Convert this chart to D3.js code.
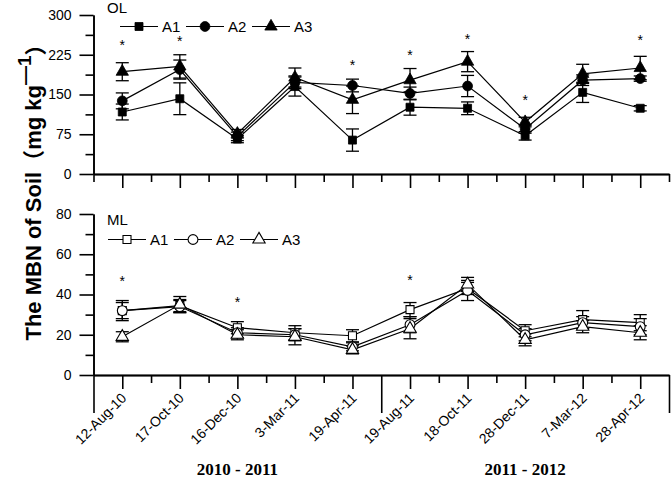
<!DOCTYPE html>
<html>
<head>
<meta charset="utf-8">
<script src="https://cdn.jsdelivr.net/npm/d3@7"></script>
<style>
  html, body { margin: 0; padding: 0; background: #fff; }
  svg { display: block; }
  text { font-family: Arial, "Liberation Sans", sans-serif; fill: #000; }
</style>
</head>
<body>
<svg id="chart" width="672" height="488"></svg>
<script>
// ---------------- DATA ----------------
const categories = ["12-Aug-10", "17-Oct-10", "16-Dec-10", "3-Mar-11", "19-Apr-11",
                    "19-Aug-11", "18-Oct-11", "28-Dec-11", "7-Mar-12", "28-Apr-12"];
const seriesNames = ["A1", "A2", "A3"];
const periodLabels = ["2010 - 2011", "2011 - 2012"];

// OL (top panel) means and errors
const olA1 = [117, 142, 66, 165, 64, 126, 124, 72, 154, 124];
const olA1Err = [15, 30, 7, 18, 21, 15, 12, 8, 19, 5];
const olA2 = [138, 197, 71, 173, 167, 152, 166, 85, 177, 180];
const olA2Err = [15, 18, 8, 12, 12, 12, 20, 8, 10, 5];
const olA3 = [193, 203, 76, 182, 140, 177, 212, 98, 189, 200];
const olA3Err = [17, 22, 8, 18, 26, 22, 19, 9, 18, 22];
const olStars = [[0, 247], [1, 255], [4, 209], [5, 228], [6, 258], [7, 143], [9, 257]];
const olTicks = [0, 75, 150, 225, 300];

// ML (bottom panel) means and errors
const mlA1 = [32, 34.5, 23.5, 21, 19.5, 32.5, 43, 22, 27.5, 26];
const mlA1Err = [5, 3, 3, 3.5, 3, 3.5, 3, 3, 4.5, 4];
const mlA2 = [32, 34, 21, 20, 14, 25, 42, 20, 26, 24];
const mlA2Err = [4, 3, 2.5, 3, 2, 4, 5, 3, 3, 4];
const mlA3 = [19, 35, 20, 19, 12.5, 23, 45, 17.5, 24, 21];
const mlA3Err = [2.5, 4, 2.5, 4, 2, 5, 3.5, 3, 3, 3.5];
const mlStars = [[0, 47.7], [2, 37.3], [5, 48.2]];
const mlTicks = [0, 20, 40, 60, 80];

// ---------------- CHART ----------------
const svg = d3.select("#chart");
const x = d3.scaleLinear().domain([-0.5, categories.length - 0.5]).range([93.5, 669]);
const symbols = [d3.symbolSquare, d3.symbolCircle, d3.symbolTriangle];
const symSizes = [64, 76, 66];

function panel(cfg) {
  const y = d3.scaleLinear().domain(cfg.domain).range(cfg.range);
  const g = svg.append("g");
  const y0 = cfg.range[0];

  // x axis
  const halfs = d3.range(-0.5, categories.length, 1);
  g.append("g").attr("transform", `translate(0,${y0})`)
    .call(d3.axisBottom(x).tickValues(d3.range(categories.length)).tickSize(14).tickSizeOuter(0).tickFormat(""));
  g.append("g").attr("transform", `translate(0,${y0})`)
    .call(d3.axisBottom(x).tickValues(halfs.filter(v => !cfg.longTicks.includes(v))).tickSize(8).tickSizeOuter(0).tickFormat(""));
  g.append("g").attr("transform", `translate(0,${y0})`)
    .call(d3.axisBottom(x).tickValues(cfg.longTicks).tickSize(cfg.longLen).tickSizeOuter(0).tickFormat(""));

  // y axis
  const step = cfg.ticks[1] - cfg.ticks[0];
  const minorVals = cfg.ticks.slice(0, -1).map(v => v + step / 2);
  const yAxis = g.append("g").attr("transform", `translate(${x(-0.5)},0)`)
    .call(d3.axisLeft(y).tickValues(cfg.ticks).tickSize(14).tickPadding(8).tickSizeOuter(0));
  g.append("g").attr("transform", `translate(${x(-0.5)},0)`)
    .call(d3.axisLeft(y).tickValues(minorVals).tickSize(8).tickSizeOuter(0).tickFormat(""));

  g.selectAll(".domain, .tick line").attr("stroke", "#000").attr("stroke-width", 1.6);
  yAxis.selectAll("text").style("font-size", "14px").attr("fill", "#000");

  // lines
  const line = d3.line().x((d, i) => x(i)).y(d => y(d));
  cfg.means.forEach(m => {
    g.append("path").datum(m).attr("d", line)
      .attr("fill", "none").attr("stroke", "#000").attr("stroke-width", 1.2);
  });

  // error bars
  cfg.means.forEach((m, s) => {
    const err = cfg.errs[s];
    const eb = g.append("g");
    m.forEach((v, i) => {
      const cx = x(i), top = y(v + err[i]), bot = y(v - err[i]);
      eb.append("line").attr("x1", cx).attr("x2", cx).attr("y1", top).attr("y2", bot);
      eb.append("line").attr("x1", cx - 6.5).attr("x2", cx + 6.5).attr("y1", top).attr("y2", top);
      eb.append("line").attr("x1", cx - 6.5).attr("x2", cx + 6.5).attr("y1", bot).attr("y2", bot);
    });
    eb.selectAll("line").attr("stroke", "#000").attr("stroke-width", 1.3);
  });

  // markers
  cfg.means.forEach((m, s) => {
    g.append("g").selectAll("path").data(m).join("path")
      .attr("d", d3.symbol().type(symbols[s]).size(symSizes[s]))
      .attr("transform", (d, i) => `translate(${x(i)},${y(d)})`)
      .attr("fill", cfg.filled ? "#000" : "#fff")
      .attr("stroke", "#000").attr("stroke-width", cfg.filled ? 0.8 : 1.1);
  });

  // significance stars
  g.append("g").selectAll("text").data(cfg.stars).join("text")
    .attr("x", d => x(d[0]))
    .attr("y", d => y(d[1]) + 7)
    .attr("text-anchor", "middle")
    .style("font-size", "14px")
    .text("*");

  // panel label
  g.append("text").attr("x", cfg.labelPos[0]).attr("y", cfg.labelPos[1])
    .style("font-size", "15px").text(cfg.label);

  // legend
  const lg = g.append("g").attr("transform", `translate(${cfg.legendPos[0]},${cfg.legendPos[1]})`);
  seriesNames.forEach((name, s) => {
    const ox = s * 66;
    lg.append("line").attr("x1", ox).attr("x2", ox + 38).attr("y1", 0).attr("y2", 0)
      .attr("stroke", "#000").attr("stroke-width", 1.2);
    lg.append("path").attr("d", d3.symbol().type(symbols[s]).size(symSizes[s])())
      .attr("transform", `translate(${ox + 19},0)`)
      .attr("fill", cfg.filled ? "#000" : "#fff").attr("stroke", "#000")
      .attr("stroke-width", cfg.filled ? 0.8 : 1.1);
    lg.append("text").attr("x", ox + 42).attr("y", 5.5).style("font-size", "15px").text(name);
  });
  return { y, y0 };
}

panel({
  domain: [0, 300], range: [174, 15], ticks: olTicks,
  means: [olA1, olA2, olA3], errs: [olA1Err, olA2Err, olA3Err],
  stars: olStars, filled: true, label: "OL", labelPos: [107, 13],
  legendPos: [120, 26.5], longTicks: [-0.5, 9.5], longLen: 8
});

const bottom = panel({
  domain: [0, 80], range: [375, 214], ticks: mlTicks,
  means: [mlA1, mlA2, mlA3], errs: [mlA1Err, mlA2Err, mlA3Err],
  stars: mlStars, filled: false, label: "ML", labelPos: [107, 224.5],
  legendPos: [108, 239.5], longTicks: [-0.5, 4.5, 9.5], longLen: 38
});

// category labels
svg.append("g").selectAll("text").data(categories).join("text")
  .attr("transform", (d, i) => `translate(${x(i) + 5},${bottom.y0 + 24}) rotate(-45)`)
  .attr("text-anchor", "end")
  .style("font-size", "14px")
  .text(d => d);

// period labels
svg.append("g").selectAll("text").data(periodLabels).join("text")
  .attr("x", (d, i) => (x(i * 5 - 0.5) + x(i * 5 + 4.5)) / 2)
  .attr("y", 475)
  .attr("text-anchor", "middle")
  .style("font-family", "'Liberation Serif', 'Times New Roman', serif")
  .style("font-weight", "bold")
  .style("font-size", "17px")
  .text(d => d);

// y axis title
const title = svg.append("text")
  .attr("transform", "translate(41,187) rotate(-90)")
  .attr("text-anchor", "middle")
  .style("font-weight", "bold")
  .style("font-size", "22px");
title.append("tspan").text("The MBN of Soil");
title.append("tspan").style("font-family", "'Noto Sans CJK SC', sans-serif").text("（");
title.append("tspan").text("mg kg");
title.append("tspan").attr("dy", "-0.55em").style("font-size", "19px").text("—1");
title.append("tspan").attr("dy", "0.55em").style("font-family", "'Noto Sans CJK SC', sans-serif").text("）");
</script>
</body>
</html>
